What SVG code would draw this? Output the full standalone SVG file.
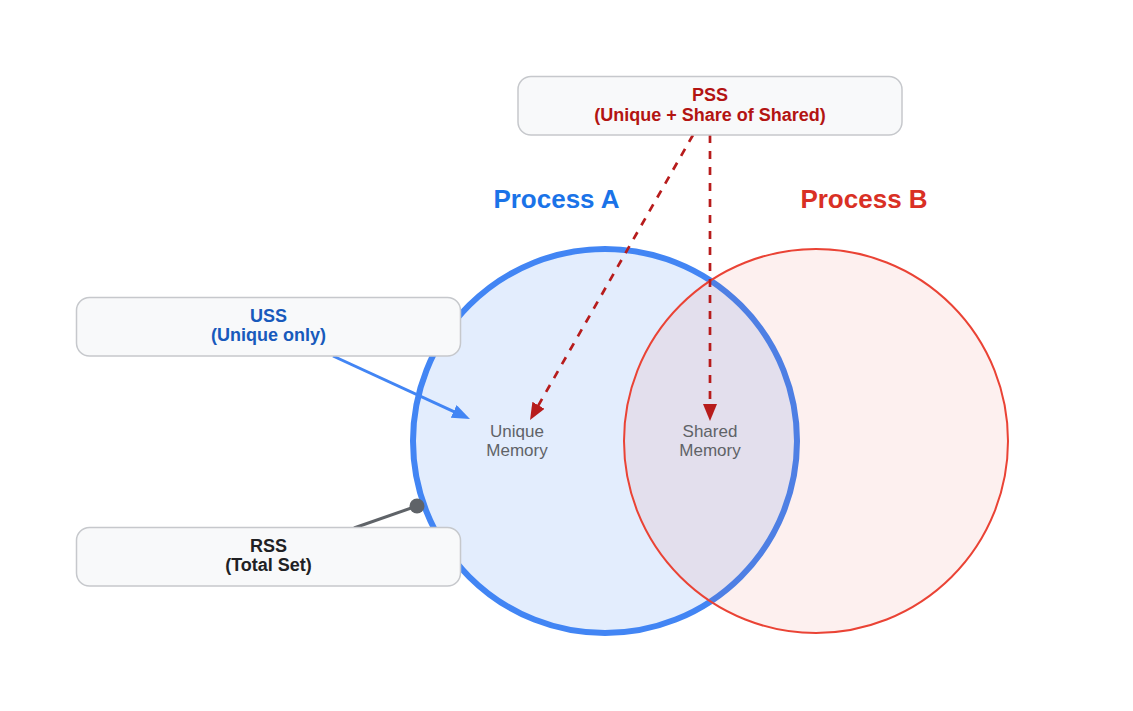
<svg xmlns="http://www.w3.org/2000/svg" width="1133" height="711" viewBox="0 0 1133 711">
<style>
.box{fill:#f8f9fa;stroke:#c6c8cc;stroke-width:1.5}
.lbl{font-family:"Liberation Sans",Arial,sans-serif;font-weight:bold;font-size:18px;text-anchor:middle}
.title{font-family:"Liberation Sans",Arial,sans-serif;font-weight:bold;font-size:26px;text-anchor:middle}
.mem{font-family:"Liberation Sans",Arial,sans-serif;font-size:17px;fill:#5f6368;text-anchor:middle}
.pss{stroke:#b71c1c;stroke-width:2.7;stroke-dasharray:8 8;fill:none}
</style>
<defs>
<marker id="ahBlue" markerUnits="userSpaceOnUse" markerWidth="18" markerHeight="14" refX="8" refY="7" orient="auto">
<path d="M0,0 L18,7 L0,14 z" fill="#4285f4"/>
</marker>
<marker id="ahRed" markerUnits="userSpaceOnUse" markerWidth="17" markerHeight="14" refX="7" refY="7" orient="auto">
<path d="M0,0 L17,7 L0,14 z" fill="#b71c1c"/>
</marker>
</defs>
<rect width="1133" height="711" fill="#ffffff"/>
<g id="processA">
<circle cx="605" cy="441" r="192" fill="#4285f4" fill-opacity="0.15" stroke="#4285f4" stroke-width="6"/>
<text class="title" x="556.5" y="208" fill="#1a73e8">Process A</text>
</g>
<g id="processB">
<circle cx="816" cy="441" r="192" fill="#ea4335" fill-opacity="0.08" stroke="#ea4335" stroke-width="2"/>
<text class="title" x="864" y="208" fill="#d93025">Process B</text>
</g>
<g id="uniqueMemory">
<text class="mem" x="517" y="437">Unique</text>
<text class="mem" x="517" y="456">Memory</text>
</g>
<g id="sharedMemory">
<text class="mem" x="710" y="437">Shared</text>
<text class="mem" x="710" y="456">Memory</text>
</g>
<g id="connectors">
<line x1="333" y1="356" x2="460.9" y2="414.8" stroke="#4285f4" stroke-width="3" marker-end="url(#ahBlue)"/>
<line class="pss" x1="693" y1="135" x2="535" y2="411.3" marker-end="url(#ahRed)"/>
<line class="pss" x1="710" y1="135" x2="710" y2="411" marker-end="url(#ahRed)"/>
<line x1="354" y1="528" x2="417" y2="506" stroke="#5f6368" stroke-width="3"/>
<circle cx="417" cy="506" r="7.5" fill="#5f6368"/>
</g>
<g id="pss">
<rect class="box" x="518" y="76.5" width="384" height="58.5" rx="13"/>
<text class="lbl" x="710" y="101" fill="#b31412">PSS</text>
<text class="lbl" x="710" y="120.5" fill="#b31412">(Unique + Share of Shared)</text>
</g>
<g id="uss">
<rect class="box" x="76.5" y="297.5" width="384" height="58.5" rx="13"/>
<text class="lbl" x="268.5" y="321.5" fill="#185abc">USS</text>
<text class="lbl" x="268.5" y="341" fill="#185abc">(Unique only)</text>
</g>
<g id="rss">
<rect class="box" x="76.5" y="527.5" width="384" height="58.5" rx="13"/>
<text class="lbl" x="268.5" y="551.5" fill="#202124">RSS</text>
<text class="lbl" x="268.5" y="571" fill="#202124">(Total Set)</text>
</g>
</svg>
